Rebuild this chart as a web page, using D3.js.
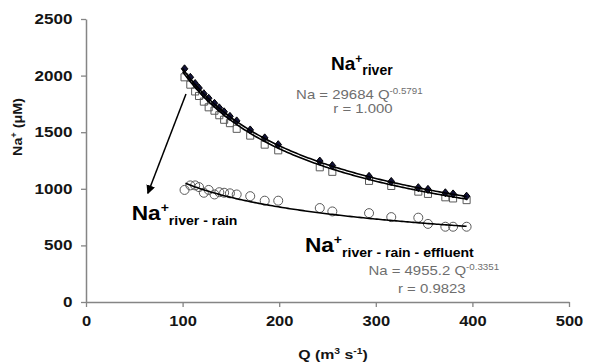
<!DOCTYPE html>
<html>
<head>
<meta charset="utf-8">
<script src="https://cdn.jsdelivr.net/npm/d3@7"></script>
<style>
body { margin: 0; background: #fff; }
text { font-family: "Liberation Sans", Arial, sans-serif; }
</style>
</head>
<body>
<script>
// Discharge Q (m3 s-1), shared by the three series
var discharge = [102, 108, 113, 117, 122, 127, 133, 138, 143, 149, 156, 170, 185, 199, 242, 255, 293, 316, 344, 354, 372, 380, 394];

// Na+ (uM)
var naRiver = [2060, 1985, 1930, 1890, 1840, 1800, 1755, 1715, 1680, 1640, 1600, 1520, 1450, 1390, 1245, 1205, 1110, 1065, 1010, 995, 965, 955, 935];
var naRiverRain = [1985, 1920, 1860, 1820, 1770, 1720, 1690, 1650, 1610, 1580, 1530, 1470, 1390, 1340, 1190, 1150, 1070, 1025, 975, 955, 925, 915, 900];
var naRiverRainEffluent = [990, 1030, 1030, 1015, 965, 990, 950, 970, 965, 960, 950, 935, 895, 895, 830, 800, 785, 750, 745, 690, 665, 665, 665];

var xTicks = [0, 100, 200, 300, 400, 500];
var yTicks = [0, 500, 1000, 1500, 2000, 2500];

// power law fits Na = a * Q^b
var fitRiver = {a: 29684, b: -0.5791, from: 100, to: 394};
var fitRiverRain = {a: 30530, b: -0.588, from: 100, to: 394};
var fitEffluent = {a: 4955.2, b: -0.3351, from: 103, to: 394};

var width = 596, height = 364;

var svg = d3.select("body")
  .append("svg")
  .attr("width", width)
  .attr("height", height);

var x = d3.scaleLinear().domain([0, 500]).range([86, 569]);
var y = d3.scaleLinear().domain([0, 2500]).range([302, 19]);

var axisColor = "#858585";
var textColor = "#151515";

// axes
var gx = svg.append("g")
  .attr("transform", "translate(0," + y(0) + ")")
  .call(d3.axisBottom(x).tickValues(xTicks).tickFormat(d3.format("d")).tickSize(5).tickSizeOuter(0));
var gy = svg.append("g")
  .attr("transform", "translate(" + x(0) + ",0)")
  .call(d3.axisLeft(y).tickValues(yTicks).tickFormat(d3.format("d")).tickSize(5).tickSizeOuter(0));

[gx, gy].forEach(function(g) {
  g.select(".domain").attr("stroke", axisColor).attr("stroke-width", 1.5);
  g.selectAll(".tick line").attr("stroke", axisColor).attr("stroke-width", 1.3);
  g.selectAll(".tick text")
    .attr("fill", textColor)
    .style("font-size", "14px")
    .style("font-weight", "bold")
    .style("font-family", '"Liberation Sans", Arial, sans-serif');
});
gx.selectAll(".tick text").attr("y", 14).attr("transform", "scale(1.18,1)");
gy.selectAll(".tick text").attr("x", -11).attr("transform", "scale(1.22,1)");

// points
var pts = discharge.map(function(q, i) {
  return {q: q, river: naRiver[i], rain: naRiverRain[i], eff: naRiverRainEffluent[i]};
});

svg.selectAll(".circ")
  .data(pts)
  .enter()
  .append("circle")
  .attr("class", "circ")
  .attr("cx", function(d) { return x(d.q); })
  .attr("cy", function(d) { return y(d.eff); })
  .attr("r", 4.5)
  .attr("fill", "none")
  .attr("stroke", "#5a5a5a")
  .attr("stroke-width", 1);

svg.selectAll(".sq")
  .data(pts)
  .enter()
  .append("path")
  .attr("class", "sq")
  .attr("d", d3.symbol().type(d3.symbolSquare).size(50))
  .attr("transform", function(d) { return "translate(" + x(d.q) + "," + y(d.rain) + ")"; })
  .attr("fill", "none")
  .attr("stroke", "#5a5a5a")
  .attr("stroke-width", 1);

svg.selectAll(".dia")
  .data(pts)
  .enter()
  .append("path")
  .attr("class", "dia")
  .attr("d", "M0,-4L3.3,0L0,4L-3.3,0Z")
  .attr("transform", function(d) { return "translate(" + x(d.q) + "," + y(d.river) + ")"; })
  .attr("fill", "#121238")
  .attr("stroke", "#000");

// fit lines
var line = d3.line()
  .x(function(d) { return x(d[0]); })
  .y(function(d) { return y(d[1]); });

[fitRiver, fitRiverRain, fitEffluent].forEach(function(f) {
  var qs = d3.range(f.from, f.to, 2).concat([f.to]);
  svg.append("path")
    .datum(qs.map(function(q) { return [q, f.a * Math.pow(q, f.b)]; }))
    .attr("d", line)
    .attr("fill", "none")
    .attr("stroke", "#000")
    .attr("stroke-width", 1.6);
});

// arrow
svg.append("defs").append("marker")
  .attr("id", "head")
  .attr("viewBox", "0 0 10 10")
  .attr("refX", 9).attr("refY", 5)
  .attr("markerWidth", 9).attr("markerHeight", 9)
  .attr("markerUnits", "userSpaceOnUse")
  .attr("orient", "auto")
  .append("path")
  .attr("d", "M0,0L10,5L0,10Z")
  .attr("fill", "#000");

svg.append("line")
  .attr("x1", x(103.5)).attr("y1", y(1837))
  .attr("x2", x(64)).attr("y2", y(960))
  .attr("stroke", "#000")
  .attr("stroke-width", 1.5)
  .attr("marker-end", "url(#head)");

// text helper: parts are tspans with relative dy
function label(px, py, sx, parts, fill, rot) {
  var tr = "translate(" + px + "," + py + ")" + (rot ? " rotate(" + rot + ")" : "") + " scale(" + sx + ",1)";
  var t = svg.append("text")
    .attr("transform", tr)
    .attr("text-anchor", "middle")
    .attr("fill", fill);
  parts.forEach(function(p) {
    t.append("tspan")
      .attr("dy", p.dy || 0)
      .style("font-size", p.size + "px")
      .style("font-weight", p.bold ? "bold" : "normal")
      .text(p.t);
  });
}

// series labels
label(x(285.5), y(2049), 1.0, [
  {t: "Na", size: 19, bold: true},
  {t: "+", size: 12, bold: true, dy: -7},
  {t: "river", size: 14, bold: true, dy: 12}
], "#000");

label(x(102), y(724), 1.08, [
  {t: "Na", size: 21, bold: true},
  {t: "+", size: 13, bold: true, dy: -8},
  {t: "river - rain", size: 13, bold: true, dy: 13}
], "#000");

label(x(314), y(442), 1.08, [
  {t: "Na", size: 21, bold: true},
  {t: "+", size: 13, bold: true, dy: -8},
  {t: "river - rain - effluent", size: 13, bold: true, dy: 13}
], "#000");

// equations
var eqColor = "#6e6e6e";
label(x(283), y(1793), 1.15, [
  {t: "Na = 29684  Q", size: 13},
  {t: "-0.5791", size: 8.5, dy: -5}
], eqColor);
label(x(286.7), y(1670), 1.15, [{t: "r = 1.000", size: 13}], eqColor);

label(x(360), y(238), 1.15, [
  {t: "Na = 4955.2 Q", size: 13},
  {t: "-0.3351", size: 8.5, dy: -5}
], eqColor);
label(x(358), y(80), 1.15, [{t: "r = 0.9823", size: 13}], eqColor);

// axis titles
label(333, 359, 1.22, [
  {t: "Q (m", size: 13, bold: true},
  {t: "3", size: 8.5, bold: true, dy: -5},
  {t: " s", size: 13, bold: true, dy: 5},
  {t: "-1", size: 8.5, bold: true, dy: -5},
  {t: ")", size: 13, bold: true, dy: 5}
], textColor);

label(22, 127, 1.1, [
  {t: "Na", size: 13, bold: true},
  {t: "+", size: 8.5, bold: true, dy: -5},
  {t: " (\u03bcM)", size: 13, bold: true, dy: 5}
], textColor, -90);
</script>
</body>
</html>
